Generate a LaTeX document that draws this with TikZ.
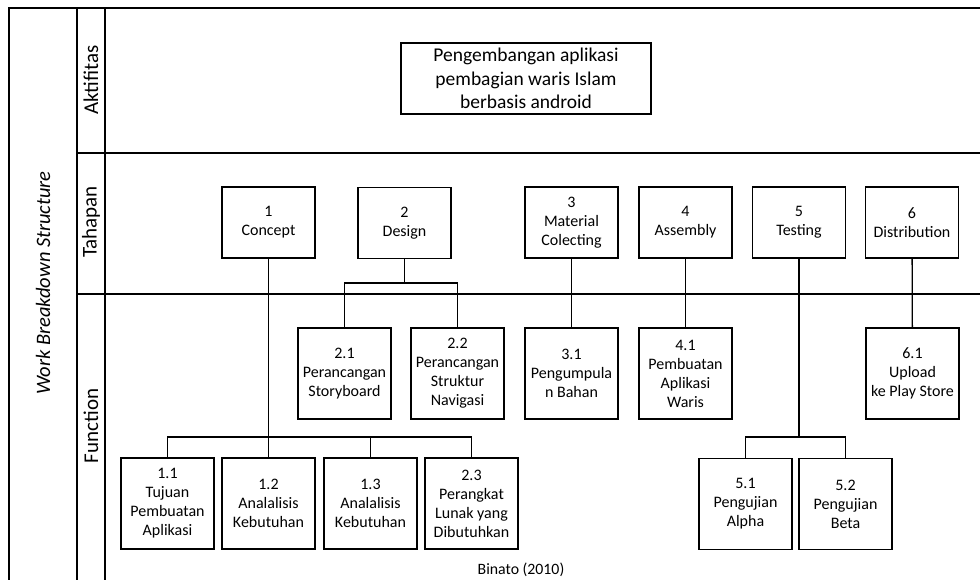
\documentclass[tikz,border=0pt]{standalone}
\usepackage{fontspec}
\setmainfont{Carlito}
\usetikzlibrary{positioning, calc}
\tikzset{
  wbsbox/.style={draw,line width=1.3pt,align=center,inner sep=1pt,minimum width=93pt,font=\fontsize{16}{19}\selectfont},
  stagebox/.style={wbsbox,minimum height=71pt},
  funcbox/.style={wbsbox,minimum height=91pt},
  rootbox/.style={draw,line width=1.3pt,align=center,minimum width=250pt,minimum height=71pt,font=\fontsize{19.5}{23.5}\selectfont},
  lane/.style={rotate=90,font=\fontsize{21}{25}\selectfont},
  frame/.style={line width=1.5pt},
  link/.style={line width=1.3pt},
}

\begin{document}
\begin{tikzpicture}[x=1pt,y=-1pt]
	    \useasboundingbox (0,0) rectangle (980,580);
	    % swimlane frame
	    \draw[frame] (9,580) -- (9,8) -- (980,8);
	    \draw[frame] (77,8) -- (77,580);
	    \draw[frame] (105,8) -- (105,580);
	    \draw[frame] (77,153) -- (980,153);
	    \draw[frame] (77,294) -- (980,294);
	    \node[lane,font=\fontsize{20.5}{25}\selectfont\itshape] (wbs) at (43,283) {Work Breakdown Structure};
	    \node[lane] (aktifitas) at (91,80) {Aktifitas};
	    \node[lane] (tahapan) at (91,222) {Tahapan};
	    \node[lane] (function) at (91,426) {Function};
	    % aktifitas
	    \node[rootbox] (root) at (526,78.5) {Pengembangan aplikasi\\pembagian waris Islam\\berbasis android};
	    % tahapan
	    \node[stagebox] (concept) at (268.5,222.5) {1\\Concept};
	    \node[stagebox] (design) at (404.5,223) {2\\Design};
	    \node[stagebox] (material) at (571.5,222.5) {3\\Material\\Colecting};
	    \node[stagebox] (assembly) at (685.5,222.5) {4\\Assembly};
	    \node[stagebox] (testing) at (799,222.5) {5\\Testing};
	    \node[stagebox] (distrib) at (912,222.5) {6\\Distribution};
	    % function
	    \node[funcbox] (f21) at (344.5,373.5) {2.1\\Perancangan\\Storyboard};
	    \node[funcbox] (f22) at (457.5,373.5) {2.2\\Perancangan\\Struktur\\Navigasi};
	    \node[funcbox] (f31) at (571.5,373.5) {3.1\\Pengumpula\\n Bahan};
	    \node[funcbox] (f41) at (685.5,373.5) {4.1\\Pembuatan\\Aplikasi\\Waris};
	    \node[funcbox] (f61) at (912.5,373.5) {6.1\\Upload\\ke Play Store};
	    \node[funcbox] (f11) at (167.5,503.5) {1.1\\Tujuan\\Pembuatan\\Aplikasi};
	    \node[funcbox] (f12) at (268.5,503.5) {1.2\\Analalisis\\Kebutuhan};
	    \node[funcbox] (f13) at (370.5,503.5) {1.3\\Analalisis\\Kebutuhan};
	    \node[funcbox] (f23) at (471.5,503.5) {2.3\\Perangkat\\Lunak yang\\Dibutuhkan};
	    \node[funcbox] (f51) at (745.5,504) {5.1\\Pengujian\\Alpha};
	    \node[funcbox] (f52) at (845.5,504) {5.2\\Pengujian\\Beta};
	    \node[font=\fontsize{15.8}{19}\selectfont,inner sep=1pt] (source) at (521,570) {Binato (2010)};
	    % connectors
	    \coordinate (busA) at (0,437);
	    \coordinate (busB) at (0,283);
	    \draw[link] (concept.south) -- (f12.north);
	    \draw[link] (f11.north) |- (busA -| f23.north) -- (f23.north);
	    \draw[link] (f13.north) -- (f13.north |- busA);
	    \draw[link] (design.south) -- (design.south |- busB);
	    \draw[link] (f21.north) |- (busB -| f22.north) -- (f22.north);
	    \draw[link] (material) -- (f31);
	    \draw[link] (assembly) -- (f41);
	    \draw[link] (distrib) -- (f61);
	    \draw[link] (testing.south) -- (testing.south |- busA);
	    \draw[link] (f51.north) |- (busA -| f52.north) -- (f52.north);
	\end{tikzpicture}
\end{document}
